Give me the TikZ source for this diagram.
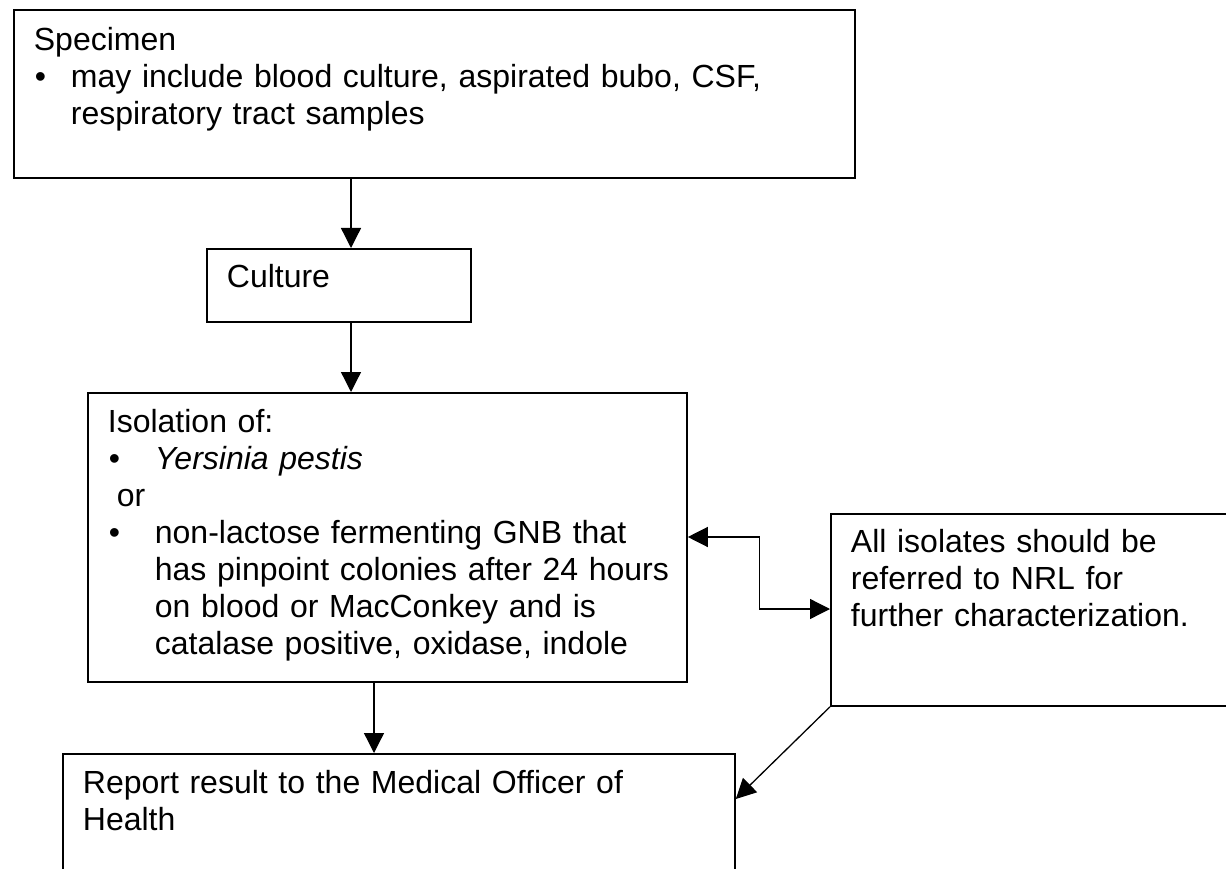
\documentclass[tikz,border=0pt]{standalone}
\usepackage{fontspec}
\setmainfont{Liberation Sans}
\usetikzlibrary{arrows.meta}

\newcommand{\itembul}[1]{\makebox[#1][l]{\hspace{1pt}\textbullet}}
\newcommand{\itemline}[2]{\hspace*{#1}\mbox{#2}}

\begin{document}
\begin{tikzpicture}[x=1pt, y=-1pt,
    stage/.style = {draw, line width=1.8pt, anchor=north west, align=left,
                    inner xsep=20pt, inner ysep=0pt,
                    font=\fontsize{32}{37}\selectfont},
    flow/.style  = {line width=1.3pt, -{Triangle[length=20pt,width=20pt]}}]
    \useasboundingbox (0,0) rectangle (1226,869);
    \clip (0,0) rectangle (1226,869);

    % Boxes
    \node[stage, text width=801pt, text height=41pt, text depth=127pt] (spec) at (13,9)
        {Specimen\\
         \itembul{37pt}\mbox{may include blood culture, aspirated bubo, CSF,}\\
         \itemline{37pt}{respiratory tract samples}};
    \node[stage, text width=224pt, text height=39pt, text depth=34pt] (cult) at (206,248)
        {Culture};
    \node[stage, text width=559pt, text height=40pt, text depth=249pt] (iso) at (87,392)
        {Isolation of:\\
         \itembul{47pt}\textit{Yersinia pestis}\\
         \hspace*{9pt}or\\
         \itembul{47pt}\mbox{non-lactose fermenting GNB that}\\
         \itemline{47pt}{has pinpoint colonies after 24 hours}\\
         \itemline{47pt}{on blood or MacConkey and is}\\
         \itemline{47pt}{catalase positive, oxidase, indole}};
    \node[stage, text width=370pt, text height=39pt, text depth=153pt] (nrl) at (830,513)
        {All isolates should be\\
         referred to NRL for\\
         further characterization.};
    \node[stage, text width=632pt, text height=40pt, text depth=107pt] (rep) at (62,753)
        {Report result to the Medical Officer of\\
         Health};

    % Arrows
    \draw[flow] ([xshift=338pt]spec.south west) -- ([xshift=145pt]cult.north west);
    \draw[flow] ([xshift=145pt]cult.south west) -- ([xshift=264pt]iso.north west);
    \draw[flow] ([xshift=287pt]iso.south west) -- ([xshift=312pt]rep.north west);
    \draw[flow, {Triangle[length=20pt,width=20pt]}-{Triangle[length=20pt,width=20pt]}]
        ([yshift=-145pt]iso.north east) -- ++(72,0) |- ([yshift=-96pt]nrl.north west);
    \draw[flow] (nrl.south west) -- ([yshift=-46pt]rep.north east);
\end{tikzpicture}
\end{document}
